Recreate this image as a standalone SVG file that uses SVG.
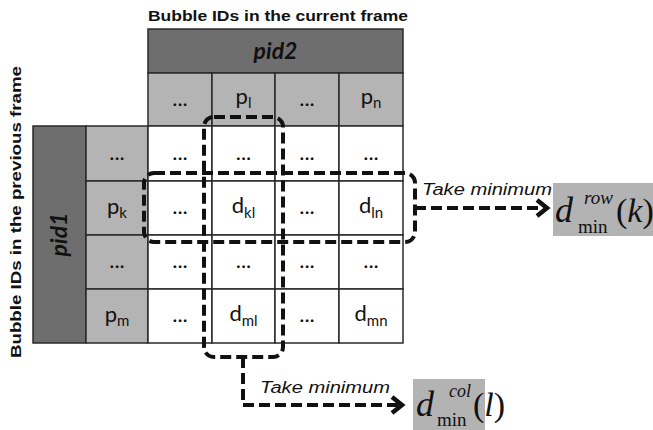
<svg xmlns="http://www.w3.org/2000/svg" width="653" height="430" viewBox="0 0 653 430">
<style>
.dark{fill:#6e6e6e;stroke:#2a2a2a;stroke-width:1.5}
.light{fill:#b4b4b4;stroke:#2a2a2a;stroke-width:1.5}
.white{fill:#ffffff;stroke:#2a2a2a;stroke-width:1.5}
.res{fill:#b3b3b3;stroke:none}
.t{font-family:Lato,"Open Sans","Liberation Sans",sans-serif;font-size:22px;fill:#111;text-anchor:middle}
.sub{font-size:15px}
.title{font-family:"Liberation Sans",Arial,sans-serif;font-weight:bold;font-size:15px;fill:#111}
.pid{font-family:Lato,"Open Sans","Liberation Sans",sans-serif;font-weight:bold;font-style:italic;font-size:23px;fill:#111;text-anchor:middle}
.take{font-family:"Liberation Sans",Arial,sans-serif;font-style:italic;font-size:16px;fill:#111}
.m{font-family:"Liberation Serif","Times New Roman",serif;fill:#111}
.dash{fill:none;stroke:#111;stroke-width:4;stroke-dasharray:11 5}
.ah{fill:none;stroke:#111;stroke-width:4.5;stroke-linejoin:miter}
</style>

<g id="title-current"><text class="title" x="148" y="21" textLength="260" lengthAdjust="spacingAndGlyphs">Bubble IDs in the current frame</text></g>
<g id="title-previous"><text class="title" transform="translate(21,358) rotate(-90)" x="0" y="0" textLength="292" lengthAdjust="spacingAndGlyphs">Bubble IDs in the previous frame</text></g>

<g id="pid2"><rect class="dark" x="148" y="29" width="255" height="44"/><text class="pid" x="275.5" y="59">pid2</text></g>
<g id="pid1"><rect class="dark" x="33" y="126" width="53" height="217"/><text class="pid" transform="translate(67,234.5) rotate(-90)">pid1</text></g>

<g id="col-headers">
<rect class="light" x="148" y="73" width="64" height="53"/><text class="t" x="180" y="106">...</text>
<rect class="light" x="212" y="73" width="63" height="53"/><text class="t" x="243.5" y="104">p<tspan class="sub" dy="4">l</tspan></text>
<rect class="light" x="275" y="73" width="64" height="53"/><text class="t" x="307" y="106">...</text>
<rect class="light" x="339" y="73" width="64" height="53"/><text class="t" x="371" y="104">p<tspan class="sub" dy="4">n</tspan></text>
</g>

<g id="row-headers">
<rect class="light" x="86" y="126" width="62" height="55"/><text class="t" x="117" y="160">...</text>
<rect class="light" x="86" y="181" width="62" height="54"/><text class="t" x="117" y="214">p<tspan class="sub" dy="4">k</tspan></text>
<rect class="light" x="86" y="235" width="62" height="54"/><text class="t" x="117" y="268">...</text>
<rect class="light" x="86" y="289" width="62" height="54"/><text class="t" x="117" y="322">p<tspan class="sub" dy="4">m</tspan></text>
</g>

<g id="cells">
<rect class="white" x="148" y="126" width="64" height="55"/><text class="t" x="180" y="160">...</text>
<rect class="white" x="212" y="126" width="63" height="55"/><text class="t" x="243.5" y="160">...</text>
<rect class="white" x="275" y="126" width="64" height="55"/><text class="t" x="307" y="160">...</text>
<rect class="white" x="339" y="126" width="64" height="55"/><text class="t" x="371" y="160">...</text>

<rect class="white" x="148" y="181" width="64" height="54"/><text class="t" x="180" y="214">...</text>
<rect class="white" x="212" y="181" width="63" height="54"/><text class="t" x="243.5" y="213">d<tspan class="sub" dy="5">kl</tspan></text>
<rect class="white" x="275" y="181" width="64" height="54"/><text class="t" x="307" y="214">...</text>
<rect class="white" x="339" y="181" width="64" height="54"/><text class="t" x="371" y="213">d<tspan class="sub" dy="5">ln</tspan></text>

<rect class="white" x="148" y="235" width="64" height="54"/><text class="t" x="180" y="268">...</text>
<rect class="white" x="212" y="235" width="63" height="54"/><text class="t" x="243.5" y="268">...</text>
<rect class="white" x="275" y="235" width="64" height="54"/><text class="t" x="307" y="268">...</text>
<rect class="white" x="339" y="235" width="64" height="54"/><text class="t" x="371" y="268">...</text>

<rect class="white" x="148" y="289" width="64" height="54"/><text class="t" x="180" y="322">...</text>
<rect class="white" x="212" y="289" width="63" height="54"/><text class="t" x="243.5" y="321">d<tspan class="sub" dy="5">ml</tspan></text>
<rect class="white" x="275" y="289" width="64" height="54"/><text class="t" x="307" y="322">...</text>
<rect class="white" x="339" y="289" width="64" height="54"/><text class="t" x="371" y="321">d<tspan class="sub" dy="5">mn</tspan></text>
</g>

<g id="row-box"><rect class="dash" x="144" y="173" width="271" height="69" rx="10"/></g>
<g id="col-box"><rect class="dash" x="204" y="117" width="79" height="240" rx="10"/></g>

<g id="row-min">
<rect class="res" x="553" y="183" width="100" height="53"/>
<text class="m" x="555" y="222" font-size="36" font-style="italic">d</text>
<text class="m" x="584" y="204" font-size="19" font-style="italic">row</text>
<text class="m" x="578" y="233" font-size="19">min</text>
<text class="m" x="616" y="222" font-size="34">(<tspan font-style="italic">k</tspan>)</text>
</g>

<g id="col-min">
<rect class="res" x="413" y="379" width="72" height="51"/>
<text class="m" x="416" y="416" font-size="36" font-style="italic">d</text>
<text class="m" x="449" y="397" font-size="18" font-style="italic">col</text>
<text class="m" x="437" y="426" font-size="19">min</text>
<text class="m" x="473" y="416" font-size="34">(<tspan font-style="italic">l</tspan>)</text>
</g>

<g id="connectors">
<path class="dash" d="M415,208 H544"/>
<path class="ah" d="M537,200 L547,208 L537,216"/>
<text class="take" x="422" y="195" textLength="130" lengthAdjust="spacingAndGlyphs">Take minimum</text>
<path class="dash" d="M243,357 V405 H399"/>
<path class="ah" d="M392,397 L402,405 L392,413"/>
<text class="take" x="260" y="393" textLength="130" lengthAdjust="spacingAndGlyphs">Take minimum</text>
</g>
</svg>
